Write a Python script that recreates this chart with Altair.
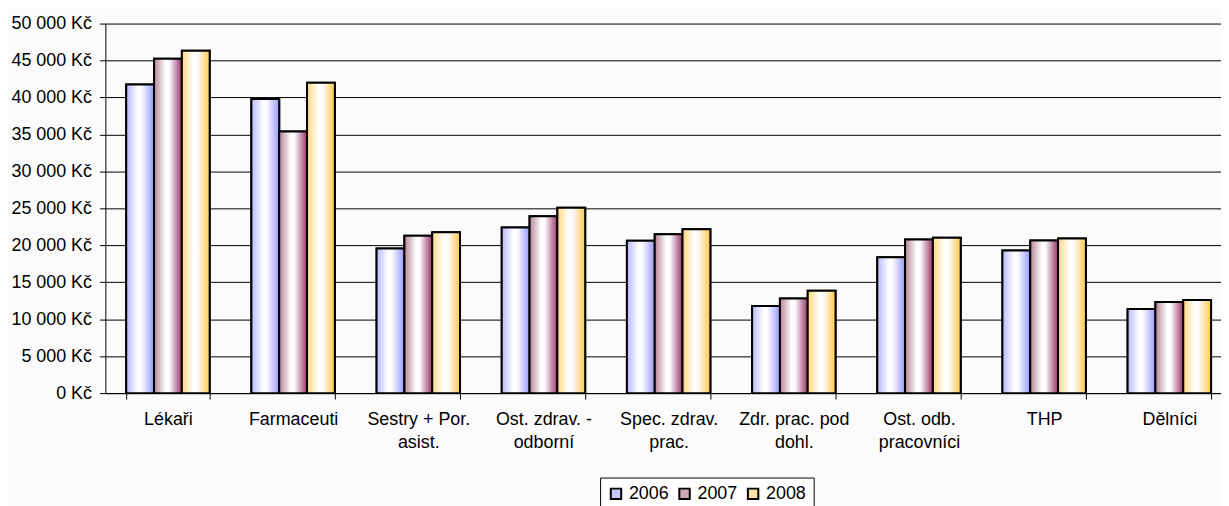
import altair as alt
import pandas as pd

categories = [
    "Lékaři",
    "Farmaceuti",
    "Sestry + Por.\nasist.",
    "Ost. zdrav. -\nodborní",
    "Spec. zdrav.\nprac.",
    "Zdr. prac. pod\ndohl.",
    "Ost. odb.\npracovníci",
    "THP",
    "Dělníci",
]
years = ["2006", "2007", "2008"]
values_2006 = [41750, 39800, 19580, 22400, 20610, 11790, 18370, 19310, 11380]
values_2007 = [45250, 35400, 21280, 23920, 21500, 12810, 20790, 20650, 12320]
values_2008 = [46330, 41980, 21780, 25090, 22180, 13840, 21010, 20920, 12590]
y_ticks = [0, 5000, 10000, 15000, 20000, 25000, 30000, 35000, 40000, 45000, 50000]

rows = []
for yr, vals in zip(years, [values_2006, values_2007, values_2008]):
    for c, v in zip(categories, vals):
        rows.append({"category": c, "year": yr, "value": v})
df = pd.DataFrame(rows)

FONT = "Liberation Sans"

def grad(c1, c2):
    return {
        "gradient": "linear",
        "x1": 0, "x2": 1, "y1": 0, "y2": 0,
        "stops": [
            {"offset": 0, "color": c1},
            {"offset": 0.42, "color": "#ffffff"},
            {"offset": 0.55, "color": "#fbfbff"},
            {"offset": 1, "color": c2},
        ],
    }

gradients = {
    "2006": grad("#b8b8ff", "#9999ff"),
    "2007": grad("#b58497", "#993366"),
    "2008": grad("#ffd77e", "#ffc94a"),
}
legend_colors = ["#c6c6fb", "#cfaab8", "#ffe3a3"]

x_enc = alt.X(
    "category:N",
    sort=categories,
    scale=alt.Scale(range=[0, 1134], paddingInner=1 / 3, paddingOuter=1 / 6),
    axis=alt.Axis(
        title=None,
        labelAngle=0,
        labelExpr="split(datum.label, '\\n')",
        labelFont=FONT,
        labelFontSize=18,
        labelColor="#000000",
        labelLineHeight=23,
        labelPadding=12,
        labelLimit=300,
        tickBand="extent",
        tickSize=6,
        tickColor="#000000",
        domainColor="#000000",
        grid=False,
    ),
)
xo_enc = alt.XOffset(
    "year:N",
    sort=years,
    scale=alt.Scale(domain=years, paddingInner=0, paddingOuter=0),
)
y_enc = alt.Y(
    "value:Q",
    scale=alt.Scale(domain=[0, 50000], nice=False),
    axis=alt.Axis(
        title=None,
        values=y_ticks,
        labelExpr="replace(format(datum.value, ','), ',', ' ') + ' Kč'",
        labelFont=FONT,
        labelFontSize=18,
        labelColor="#000000",
        labelPadding=8,
        tickSize=6,
        tickColor="#000000",
        domainColor="#000000",
        grid=True,
        gridColor="#000000",
        gridWidth=1,
    ),
)

base = alt.Chart(df).encode(x=x_enc, xOffset=xo_enc, y=y_enc)

legend_layer = base.mark_bar(stroke="black", strokeWidth=2).encode(
    fill=alt.Fill(
        "year:N",
        scale=alt.Scale(domain=years, range=legend_colors),
        legend=alt.Legend(
            title=None,
            orient="none",
            legendX=498,
            legendY=457,
            direction="horizontal",
            symbolType="square",
            symbolSize=110,
            symbolStrokeColor="black",
            symbolStrokeWidth=2,
            symbolOpacity=1,
            labelFont=FONT,
            labelFontSize=18,
            labelColor="#000000",
            labelOffset=4,
            columnPadding=5,
            padding=7,
            strokeColor="#000000",
            fillColor="#ffffff",
        ),
    )
)

layers = [legend_layer]
for yr in years:
    layers.append(
        base.transform_filter(alt.datum.year == yr).mark_bar(
            fill=gradients[yr], stroke="black", strokeWidth=2
        )
    )

chart = (
    alt.layer(*layers)
    .properties(
        width=1123,
        height=372,
        autosize=alt.AutoSizeParams(type="none"),
        padding={"left": 98, "top": 14, "right": 0, "bottom": 118},
        background="#fbfbfb",
    )
    .configure_view(stroke=None)
)

chart.save("out.html", embed_options={"renderer": "svg", "actions": False})
